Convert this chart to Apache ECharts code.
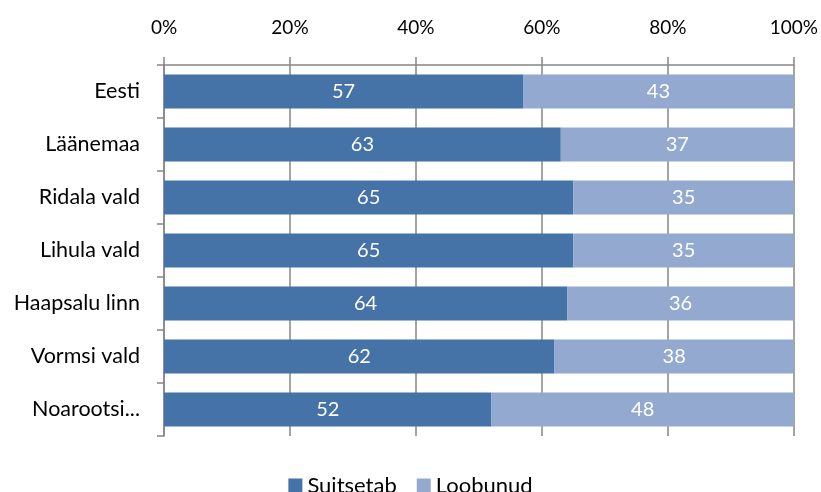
<!DOCTYPE html>
<html><head><meta charset="utf-8">
<script src="https://cdn.jsdelivr.net/npm/echarts@6/dist/echarts.min.js"></script>
<style>html,body{margin:0;padding:0;background:#fff}#c{width:821px;height:492px}</style>
</head><body><div id="c"></div>
<script>
const categories = ['Eesti','Läänemaa','Ridala vald','Lihula vald','Haapsalu linn','Vormsi vald','Noarootsi...'];
const suitsetab = [57,63,65,65,64,62,52];
const loobunud = [43,37,35,35,36,38,48];
const seriesNames = ['Suitsetab','Loobunud'];
const font = 'Lato, Carlito, "Open Sans", sans-serif';
const chart = echarts.init(document.getElementById('c'));
const lbl = {show:true, position:'inside', color:'#fff', fontSize:20, fontFamily:font};
chart.setOption({
  animation:false,
  grid:{left:164, right:26, top:65, bottom:56},
  legend:{top:469.5, left:'center', itemWidth:14, itemHeight:14, itemGap:20, icon:'rect',
    textStyle:{fontSize:22, fontFamily:font, color:'#000'}, data:seriesNames},
  xAxis:{type:'value', position:'top', min:0, max:100, interval:20,
    axisLabel:{formatter:'{value}%', fontSize:19, fontFamily:font, color:'#000', margin:28},
    axisLine:{show:true, lineStyle:{color:'#868686', width:1.5}},
    axisTick:{show:true, length:8, lineStyle:{color:'#868686', width:1.5}},
    splitLine:{show:true, lineStyle:{color:'#868686', width:1.5}}},
  yAxis:{type:'category', data:categories, inverse:true,
    axisLabel:{fontSize:21.5, fontFamily:font, color:'#000', margin:24},
    axisLine:{show:true, lineStyle:{color:'#868686', width:1.5}},
    axisTick:{show:true, length:7, lineStyle:{color:'#868686', width:1.5}}},
  series:[
    {name:seriesNames[0], type:'bar', stack:'a', data:suitsetab, barCategoryGap:'36%', itemStyle:{color:'#4572A7'}, label:lbl},
    {name:seriesNames[1], type:'bar', stack:'a', data:loobunud, barCategoryGap:'36%', itemStyle:{color:'#93A9CF'}, label:lbl}
  ]
});
</script></body></html>
